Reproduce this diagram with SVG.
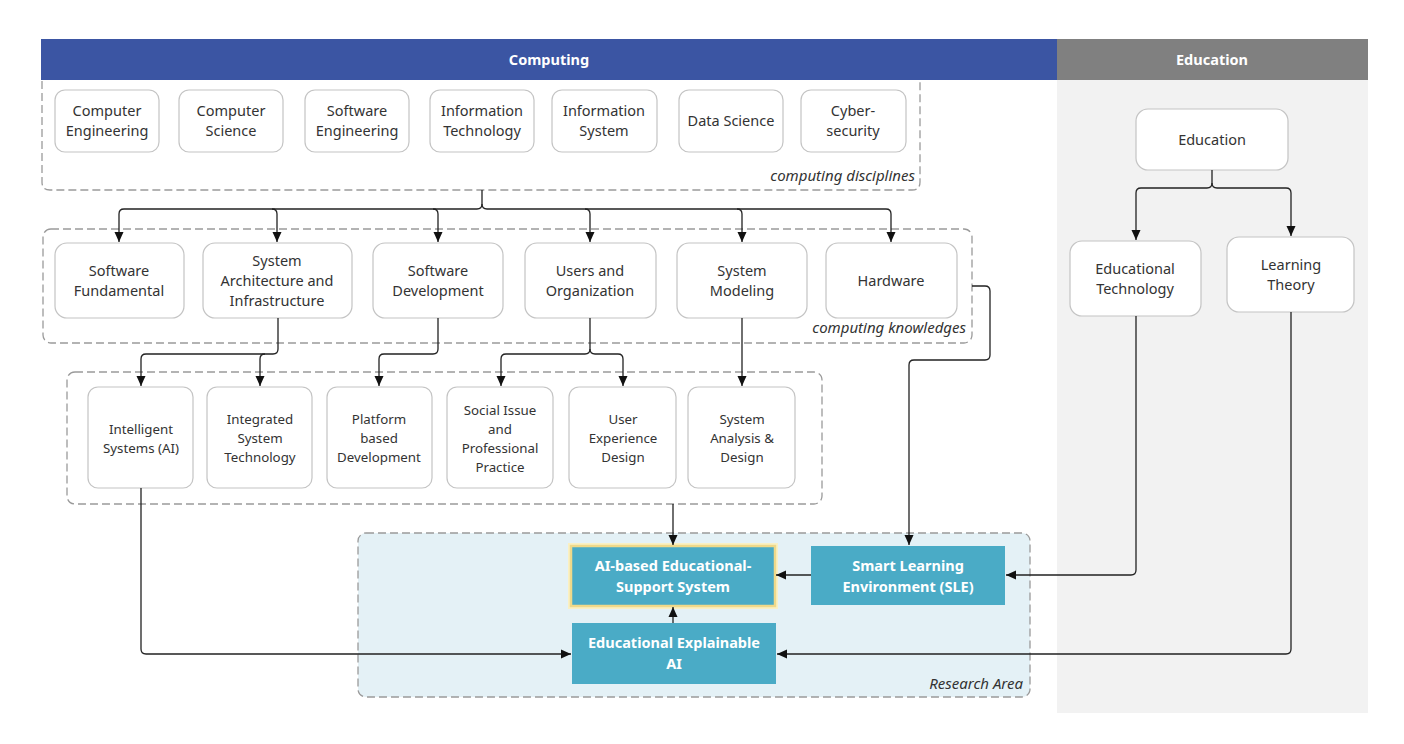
<svg xmlns="http://www.w3.org/2000/svg" width="1404" height="744" viewBox="0 0 1404 744">
<defs>
<marker id="arr" markerUnits="userSpaceOnUse" markerWidth="10" markerHeight="10" viewBox="0 0 10 10" refX="10" refY="5" orient="auto">
<path d="M0,0.5 L10,5 L0,9.5 Z" fill="#111"/>
</marker>
<style>
.box{fill:#fff;stroke:#c4c4c4;stroke-width:1.2}
.grp{fill:none;stroke:#9a9a9a;stroke-width:1.3;stroke-dasharray:8 4}
.t{font-family:"Noto Sans","Open Sans",sans-serif;font-size:14.5px;fill:#333;text-anchor:middle}
.s{font-family:"Noto Sans","Open Sans",sans-serif;font-size:13.3px;fill:#333;text-anchor:middle}
.lbl{font-family:"Noto Sans","Open Sans",sans-serif;font-size:15px;font-style:italic;fill:#333;text-anchor:end}
.hd{font-family:"Noto Sans","Open Sans",sans-serif;font-size:14.5px;font-weight:bold;fill:#fff;text-anchor:middle}
.cb{fill:#4aabc6}
.ct{font-family:"Noto Sans","Open Sans",sans-serif;font-size:14.5px;font-weight:bold;fill:#fff;text-anchor:middle}
.c{fill:none;stroke:#222;stroke-width:1.3}
</style>
</defs>
<rect width="1404" height="744" fill="#fff"/>
<g id="education-panel">
<rect x="1057" y="80" width="311" height="633" fill="#f2f2f2"/>
<rect x="1057" y="39" width="311" height="41" fill="#808080"/>
<text class="hd" x="1212" y="65">Education</text>
</g>
<g id="computing-header">
<rect x="41" y="39" width="1016" height="41" fill="#3b55a3"/>
<text class="hd" x="549" y="65">Computing</text>
</g>
<g id="group-disciplines">
<path class="grp" d="M42,81 V182 Q42,190 50,190 H912 Q920,190 920,182 V81"/>
<text class="lbl" x="915" y="181">computing disciplines</text>
</g>
<g id="group-knowledges">
<rect class="grp" x="43" y="229" width="929" height="114" rx="8"/>
<text class="lbl" x="966" y="333">computing knowledges</text>
</g>
<g id="group-areas">
<rect class="grp" x="67" y="372" width="755" height="132" rx="8"/>
</g>
<g id="group-research">
<rect x="358" y="533" width="672" height="164" rx="8" fill="#e4f1f6" stroke="#9a9a9a" stroke-width="1.3" stroke-dasharray="8 4"/>
<text class="lbl" x="1023" y="689">Research Area</text>
</g>
<g id="n-computer-engineering"><rect class="box" x="55" y="90" width="104" height="62" rx="10"/><text class="t" x="107" y="116">Computer</text><text class="t" x="107" y="136">Engineering</text></g>
<g id="n-computer-science"><rect class="box" x="179" y="90" width="104" height="62" rx="10"/><text class="t" x="231" y="116">Computer</text><text class="t" x="231" y="136">Science</text></g>
<g id="n-software-engineering"><rect class="box" x="305" y="90" width="104" height="62" rx="10"/><text class="t" x="357" y="116">Software</text><text class="t" x="357" y="136">Engineering</text></g>
<g id="n-information-technology"><rect class="box" x="430" y="90" width="104" height="62" rx="10"/><text class="t" x="482" y="116">Information</text><text class="t" x="482" y="136">Technology</text></g>
<g id="n-information-system"><rect class="box" x="552" y="90" width="105" height="62" rx="10"/><text class="t" x="604" y="116">Information</text><text class="t" x="604" y="136">System</text></g>
<g id="n-data-science"><rect class="box" x="679" y="90" width="104" height="62" rx="10"/><text class="t" x="731" y="126">Data Science</text></g>
<g id="n-cybersecurity"><rect class="box" x="801" y="90" width="105" height="62" rx="10"/><text class="t" x="853" y="116">Cyber-</text><text class="t" x="853" y="136">security</text></g>
<g id="n-software-fundamental"><rect class="box" x="55" y="243" width="129" height="75" rx="12"/><text class="t" x="119" y="276">Software</text><text class="t" x="119" y="296">Fundamental</text></g>
<g id="n-system-architecture"><rect class="box" x="203" y="243" width="149" height="75" rx="12"/><text class="t" x="277" y="266">System</text><text class="t" x="277" y="286">Architecture and</text><text class="t" x="277" y="306">Infrastructure</text></g>
<g id="n-software-development"><rect class="box" x="373" y="243" width="130" height="75" rx="12"/><text class="t" x="438" y="276">Software</text><text class="t" x="438" y="296">Development</text></g>
<g id="n-users-organization"><rect class="box" x="525" y="243" width="131" height="75" rx="12"/><text class="t" x="590" y="276">Users and</text><text class="t" x="590" y="296">Organization</text></g>
<g id="n-system-modeling"><rect class="box" x="677" y="243" width="130" height="75" rx="12"/><text class="t" x="742" y="276">System</text><text class="t" x="742" y="296">Modeling</text></g>
<g id="n-hardware"><rect class="box" x="826" y="243" width="131" height="75" rx="12"/><text class="t" x="891" y="286">Hardware</text></g>
<g id="n-intelligent-systems"><rect class="box" x="88" y="387" width="105" height="101" rx="10"/><text class="s" x="141" y="434">Intelligent</text><text class="s" x="141" y="453">Systems (AI)</text></g>
<g id="n-integrated-system"><rect class="box" x="207" y="387" width="105" height="101" rx="10"/><text class="s" x="260" y="424">Integrated</text><text class="s" x="260" y="443">System</text><text class="s" x="260" y="462">Technology</text></g>
<g id="n-platform-development"><rect class="box" x="327" y="387" width="105" height="101" rx="10"/><text class="s" x="379" y="424">Platform</text><text class="s" x="379" y="443">based</text><text class="s" x="379" y="462">Development</text></g>
<g id="n-social-issue"><rect class="box" x="447" y="387" width="106" height="101" rx="10"/><text class="s" x="500" y="415">Social Issue</text><text class="s" x="500" y="434">and</text><text class="s" x="500" y="453">Professional</text><text class="s" x="500" y="472">Practice</text></g>
<g id="n-user-experience"><rect class="box" x="569" y="387" width="107" height="101" rx="10"/><text class="s" x="623" y="424">User</text><text class="s" x="623" y="443">Experience</text><text class="s" x="623" y="462">Design</text></g>
<g id="n-system-analysis"><rect class="box" x="688" y="387" width="107" height="101" rx="10"/><text class="s" x="742" y="424">System</text><text class="s" x="742" y="443">Analysis &amp;</text><text class="s" x="742" y="462">Design</text></g>
<g id="n-education"><rect class="box" x="1136" y="109" width="152" height="61" rx="12"/><text class="t" x="1212" y="145">Education</text></g>
<g id="n-educational-technology"><rect class="box" x="1070" y="241" width="131" height="75" rx="12"/><text class="t" x="1135" y="274">Educational</text><text class="t" x="1135" y="294">Technology</text></g>
<g id="n-learning-theory"><rect class="box" x="1227" y="237" width="127" height="75" rx="12"/><text class="t" x="1291" y="270">Learning</text><text class="t" x="1291" y="290">Theory</text></g>
<g id="n-ai-support">
<rect x="571" y="546" width="204" height="60" fill="none" stroke="#faf0c4" stroke-width="6"/>
<rect class="cb" x="571" y="546" width="204" height="60" stroke="#efd98a" stroke-width="2.5"/>
<text class="ct" x="673" y="571">AI-based Educational-</text><text class="ct" x="673" y="592">Support System</text></g>
<g id="n-sle"><rect class="cb" x="811" y="546" width="194" height="59"/><text class="ct" x="908" y="571">Smart Learning</text><text class="ct" x="908" y="592">Environment (SLE)</text></g>
<g id="n-xai"><rect class="cb" x="572" y="623" width="204" height="61"/><text class="ct" x="674" y="648">Educational Explainable</text><text class="ct" x="674" y="669">AI</text></g>
<g id="connectors">
<path class="c" d="M482,190 V204 Q482,209 477,209 H124 Q119,209 119,214 V242" marker-end="url(#arr)"/>
<path class="c" d="M482,204 Q482,209 487,209 H886 Q891,209 891,214 V242" marker-end="url(#arr)"/>
<path class="c" d="M272,209 Q277,209 277,214 V242" marker-end="url(#arr)"/>
<path class="c" d="M433,209 Q438,209 438,214 V242" marker-end="url(#arr)"/>
<path class="c" d="M585,209 Q590,209 590,214 V242" marker-end="url(#arr)"/>
<path class="c" d="M737,209 Q742,209 742,214 V242" marker-end="url(#arr)"/>
<path class="c" d="M278,318 V349 Q278,354 273,354 H146 Q141,354 141,359 V386" marker-end="url(#arr)"/>
<path class="c" d="M265,354 Q260,354 260,359 V386" marker-end="url(#arr)"/>
<path class="c" d="M438,318 V349 Q438,354 433,354 H384 Q379,354 379,359 V386" marker-end="url(#arr)"/>
<path class="c" d="M590,318 V349 Q590,354 585,354 H506 Q501,354 501,359 V386" marker-end="url(#arr)"/>
<path class="c" d="M590,349 Q590,354 595,354 H618 Q623,354 623,359 V386" marker-end="url(#arr)"/>
<path class="c" d="M742,318 V386" marker-end="url(#arr)"/>
<path class="c" d="M972,286 H985 Q990,286 990,291 V355 Q990,360 985,360 H914 Q909,360 909,365 V545" marker-end="url(#arr)"/>
<path class="c" d="M673,504 V545" marker-end="url(#arr)"/>
<path class="c" d="M811,575 H776" marker-end="url(#arr)"/>
<path class="c" d="M673,623 V607" marker-end="url(#arr)"/>
<path class="c" d="M141,488 V649 Q141,654 146,654 H571" marker-end="url(#arr)"/>
<path class="c" d="M1291,312 V649 Q1291,654 1286,654 H777" marker-end="url(#arr)"/>
<path class="c" d="M1136,316 V570 Q1136,575 1131,575 H1006" marker-end="url(#arr)"/>
<path class="c" d="M1212,170 V183 Q1212,188 1207,188 H1141 Q1136,188 1136,193 V240" marker-end="url(#arr)"/>
<path class="c" d="M1212,183 Q1212,188 1217,188 H1286 Q1291,188 1291,193 V236" marker-end="url(#arr)"/>
</g>
</svg>
